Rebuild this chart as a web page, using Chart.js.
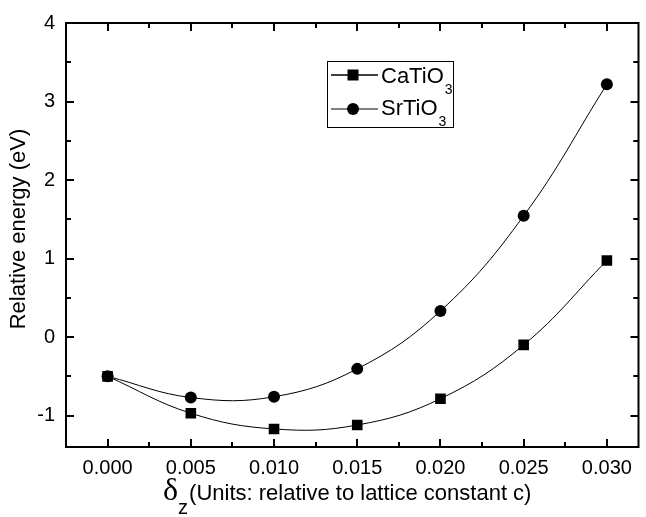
<!DOCTYPE html>
<html><head><meta charset="utf-8">
<script src="https://cdn.jsdelivr.net/npm/chart.js@4.4.1/dist/chart.umd.min.js"></script>
<style>html,body{margin:0;padding:0;background:#fff;overflow:hidden}#wrap{width:646px;height:517px;position:relative}</style>
</head><body><div id="wrap"><canvas id="c" width="646" height="517"></canvas></div>
<script>
const xValues = [0, 0.005, 0.010, 0.015, 0.020, 0.025, 0.030];
const caTiO3 = [-0.50, -0.97, -1.17, -1.12, -0.785, -0.10, 0.975];
const srTiO3 = [-0.50, -0.77, -0.76, -0.405, 0.333, 1.544, 3.22];
const xTicks = [0, 0.005, 0.010, 0.015, 0.020, 0.025, 0.030];
const yTicks = [-1, 0, 1, 2, 3, 4];
const seriesNames = [{base: 'CaTiO', sub: '3'}, {base: 'SrTiO', sub: '3'}];
const xTitle = {greek: 'δ', sub: 'z', rest: '(Units: relative to lattice constant c)'};
const yTitle = 'Relative energy (eV)';

const FONT = "'Liberation Sans', Arial, Helvetica, sans-serif";
const SERIF = "'Liberation Serif', 'Times New Roman', serif";
const toXY = arr => arr.map((v, i) => ({x: xValues[i], y: v}));

const framePlugin = {
  id: 'frame',
  afterDraw(chart) {
    const ctx = chart.ctx, a = chart.chartArea;
    const xs = chart.scales.x, ys = chart.scales.y;
    ctx.save();
    ctx.strokeStyle = '#000';
    ctx.lineWidth = 2;
    ctx.strokeRect(a.left, a.top, a.right - a.left, a.bottom - a.top);
    const tick = (x1, y1, x2, y2) => { ctx.beginPath(); ctx.moveTo(x1, y1); ctx.lineTo(x2, y2); ctx.stroke(); };
    const xStep = xTicks[1] - xTicks[0];
    const xMinor = [];
    for (let i = 0; i < xTicks.length; i++) { xMinor.push(xTicks[i] - xStep / 2); xMinor.push(xTicks[i] + xStep / 2); }
    xTicks.forEach(v => { const p = Math.round(xs.getPixelForValue(v)); tick(p, a.bottom, p, a.bottom - 8); tick(p, a.top, p, a.top + 8); });
    xMinor.forEach(v => { if (v <= xs.min || v >= xs.max) return; const p = Math.round(xs.getPixelForValue(v)); tick(p, a.bottom, p, a.bottom - 5); tick(p, a.top, p, a.top + 5); });
    const yStep = yTicks[1] - yTicks[0];
    const yMinor = [];
    for (let i = 0; i < yTicks.length; i++) { yMinor.push(yTicks[i] - yStep / 2); yMinor.push(yTicks[i] + yStep / 2); }
    yTicks.forEach(v => { const p = Math.round(ys.getPixelForValue(v)); tick(a.left, p, a.left + 8, p); tick(a.right, p, a.right - 8, p); });
    yMinor.forEach(v => { if (v <= ys.min || v >= ys.max) return; const p = Math.round(ys.getPixelForValue(v)); tick(a.left, p, a.left + 5, p); tick(a.right, p, a.right - 5, p); });

    // legend
    ctx.lineWidth = 1;
    ctx.strokeRect(327.5, 61.5, 126, 66);
    const rows = [75, 109];
    const baselines = [83, 115];
    chart.data.datasets.forEach((ds, i) => {
      const y = rows[i];
      ctx.lineWidth = i === 0 ? 1.5 : 1;
      tick(331, y, 378, y);
      ctx.fillStyle = '#000';
      if (ds.pointStyle === 'rect') {
        ctx.fillRect(353 - 5.5, y - 5.5, 11, 11);
      } else {
        ctx.beginPath(); ctx.arc(353, y, 6, 0, Math.PI * 2); ctx.fill();
      }
      ctx.textAlign = 'left';
      ctx.textBaseline = 'alphabetic';
      ctx.font = '22px ' + FONT;
      const nm = seriesNames[i];
      ctx.fillText(nm.base, 381, baselines[i]);
      const w = ctx.measureText(nm.base).width;
      ctx.font = '14px ' + FONT;
      ctx.fillText(nm.sub, 381 + w + 1, baselines[i] + 11);
    });

    // x title
    ctx.fillStyle = '#000';
    ctx.textAlign = 'left';
    ctx.textBaseline = 'alphabetic';
    ctx.font = '32px ' + SERIF;
    ctx.fillText(xTitle.greek, 163, 500);
    const dw = ctx.measureText(xTitle.greek).width;
    ctx.font = '20px ' + FONT;
    ctx.fillText(xTitle.sub, 163 + dw, 514);
    const zw = ctx.measureText(xTitle.sub).width;
    ctx.font = '22px ' + FONT;
    ctx.fillText(xTitle.rest, 163 + dw + zw + 1, 500);

    // y title
    ctx.translate(19, 229);
    ctx.rotate(-Math.PI / 2);
    ctx.textAlign = 'center';
    ctx.textBaseline = 'middle';
    ctx.font = '22px ' + FONT;
    ctx.fillText(yTitle, 0, 0);
    ctx.restore();
  }
};

new Chart(document.getElementById('c'), {
  type: 'line',
  data: {
    datasets: [
      {label: 'CaTiO3', data: toXY(caTiO3), borderColor: '#000', backgroundColor: '#000', borderWidth: 1,
       pointStyle: 'rect', pointRadius: 7.5, pointBorderWidth: 0, tension: 0.4, fill: false},
      {label: 'SrTiO3', data: toXY(srTiO3), borderColor: '#000', backgroundColor: '#000', borderWidth: 1,
       pointStyle: 'circle', pointRadius: 6, pointBorderWidth: 0, tension: 0.4, fill: false}
    ]
  },
  options: {
    responsive: false,
    animation: false,
    devicePixelRatio: 1,
    layout: {padding: {top: 19, right: 1, left: 0, bottom: 0}},
    plugins: {legend: {display: false}, tooltip: {enabled: false}},
    scales: {
      x: {
        type: 'linear', min: -0.0025, max: 0.0319,
        grid: {display: false, drawTicks: false}, border: {display: false},
        afterBuildTicks: s => { s.ticks = xTicks.map(v => ({value: v})); },
        afterFit: s => { s.height = 70; },
        ticks: {color: '#000', padding: 9, font: {family: FONT, size: 20}, maxRotation: 0, autoSkip: false,
                callback: v => Number(v).toFixed(3)}
      },
      y: {
        min: -1.4, max: 4,
        grid: {display: false, drawTicks: false}, border: {display: false},
        afterBuildTicks: s => { s.ticks = yTicks.map(v => ({value: v})); },
        afterFit: s => { s.width = 66; },
        ticks: {color: '#000', padding: 11, font: {family: FONT, size: 20}, callback: v => String(v)}
      }
    }
  },
  plugins: [framePlugin]
});
</script>
</body></html>
